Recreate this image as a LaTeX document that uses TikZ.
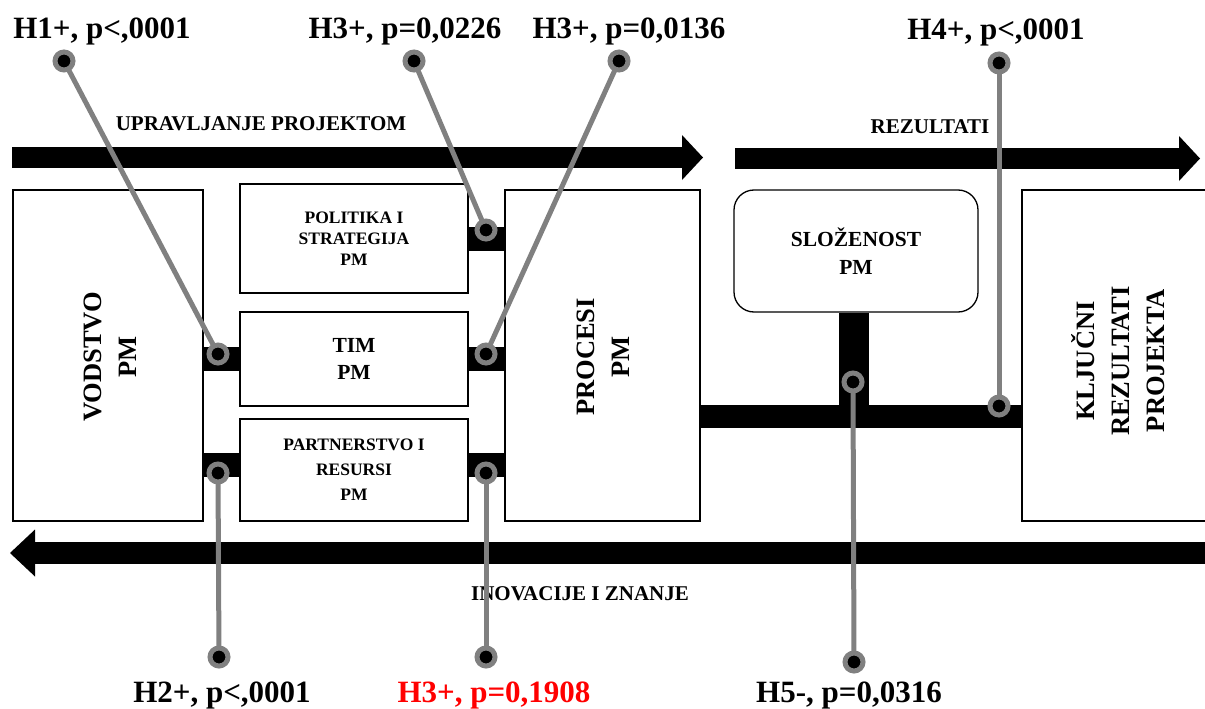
\documentclass[tikz,border=0pt]{standalone}
\usepackage{fontspec}
\setmainfont{Liberation Serif}
\usetikzlibrary{arrows.meta}
\definecolor{probegray}{HTML}{808080}
\definecolor{hred}{HTML}{FF0000}
\tikzset{
  box/.style={draw, line width=1.3pt, inner sep=0pt},
  big/.style={font=\bfseries\fontsize{26.5}{35}\selectfont, align=center, inner sep=0pt},
  mid/.style={font=\bfseries\fontsize{21.5}{27.5}\selectfont, align=center, inner sep=0pt},
  small/.style={font=\bfseries\fontsize{17.5}{21}\selectfont, align=center, inner sep=0pt},
  bar/.style={line width=24pt},
  flow/.style={line width=21pt, -{Triangle[length=21pt,width=45pt,line width=0pt]}},
  flowlabel/.style={font=\bfseries\fontsize{21}{25}\selectfont, anchor=base, inner sep=0pt},
  hyp/.style={font=\bfseries\fontsize{31}{37}\selectfont, anchor=base, inner sep=0pt},
  probe/.style={draw=probegray, line width=5pt},
  pin/.style={circle, draw=probegray, fill=black, line width=5pt, minimum size=18pt, inner sep=0pt, outer sep=0pt},
}
\begin{document}
\begin{tikzpicture}[x=1pt, y=-1pt]
\useasboundingbox (0,0) rectangle (1205,709);
% the three flows
\coordinate (U0) at (12,157.5);
\coordinate (U1) at (703,157.5);
\coordinate (R0) at (735,158.5);
\coordinate (R1) at (1200,158.5);
\coordinate (I0) at (1210,553);
\coordinate (I1) at (10,553);
\draw[flow] (U0) -- (U1);
\draw[flow] (R0) -- (R1);
\draw[flow, line width=22pt, -{Triangle[length=25pt,width=47pt,line width=0pt]}] (I0) -- (I1);
\node[flowlabel] (Ut) at (261,130) {UPRAVLJANJE PROJEKTOM};
\node[flowlabel] (Rt) at (930,133) {REZULTATI};
\node[flowlabel] (It) at (580,600) {INOVACIJE I ZNANJE};
% boxes
\node[box, minimum width=190pt, minimum height=331pt] (V) at (108,355.5) {};
\node[big, rotate=90] (Vt) at (110,357) {VODSTVO\\PM};
\node[box, small, minimum width=228pt, minimum height=109pt] (PS) at (354,238.5) {POLITIKA I\\STRATEGIJA\\PM};
\node[box, mid, minimum width=228pt, minimum height=94pt] (T) at (354,359) {TIM\\PM};
\node[box, small, font=\bfseries\fontsize{17.5}{25}\selectfont, minimum width=228pt, minimum height=102pt] (PR) at (354,470) {PARTNERSTVO I\\RESURSI\\PM};
\node[box, minimum width=195pt, minimum height=331pt] (P) at (602.5,355.5) {};
\node[big, rotate=90] (Pt) at (603,357) {PROCESI\\PM};
\node[box, mid, rounded corners=20pt, minimum width=244pt, minimum height=122pt] (S) at (856,251) {SLOŽENOST\\PM};
\node[box, minimum width=192pt, minimum height=331pt] (K) at (1118,355.5) {};
\node[big, rotate=90] (Kt) at (1118,361) {KLJUČNI\\REZULTATI\\PROJEKTA};
% black links
\path[bar]
(T.west) edge (T.west -| V.east)
([yshift=5pt]PR.west) edge ([yshift=5pt]PR.west -| V.east)
(PS.east) edge (PS.east -| P.west)
(T.east) edge (T.east -| P.west)
([yshift=5pt]PR.east) edge ([yshift=5pt]PR.east -| P.west);
\coordinate (J) at (854,416.5);
\draw[bar, line width=23pt] (P.east |- J) -- (K.west |- J);
\draw[bar, line width=30pt] (J |- S.south) -- (J);
% hypotheses
\node[hyp] (H1) at (102,39) {H1+, p<,0001};
\node[hyp] (H3a) at (405,39) {H3+, p=0,0226};
\node[hyp] (H3b) at (629,39) {H3+, p=0,0136};
\node[hyp] (H4) at (996,40) {H4+, p<,0001};
\node[hyp] (H2) at (222,702) {H2+, p<,0001};
\node[hyp, text=hred] (H3c) at (494,702) {H3+, p=0,1908};
\node[hyp] (H5) at (849,702) {H5-, p=0,0316};
% pins
\node[pin] (a1) at (64,61) {};   \node[pin] (b1) at (218,354) {};
\node[pin] (a2) at (414,61) {};  \node[pin] (b2) at (486,230) {};
\node[pin] (a3) at (619,61) {};  \node[pin] (b3) at (486,354) {};
\node[pin] (a4) at (999,63) {};  \node[pin] (b4) at (999,406) {};
\node[pin] (a5) at (219,657) {}; \node[pin] (b5) at (218,473) {};
\node[pin] (a6) at (486,657) {}; \node[pin] (b6) at (486,473) {};
\node[pin] (a7) at (854,662) {}; \node[pin] (b7) at (853,382) {};
\foreach \i in {1,...,7}
  \draw[probe] (a\i) -- (b\i);
\end{tikzpicture}
\end{document}
